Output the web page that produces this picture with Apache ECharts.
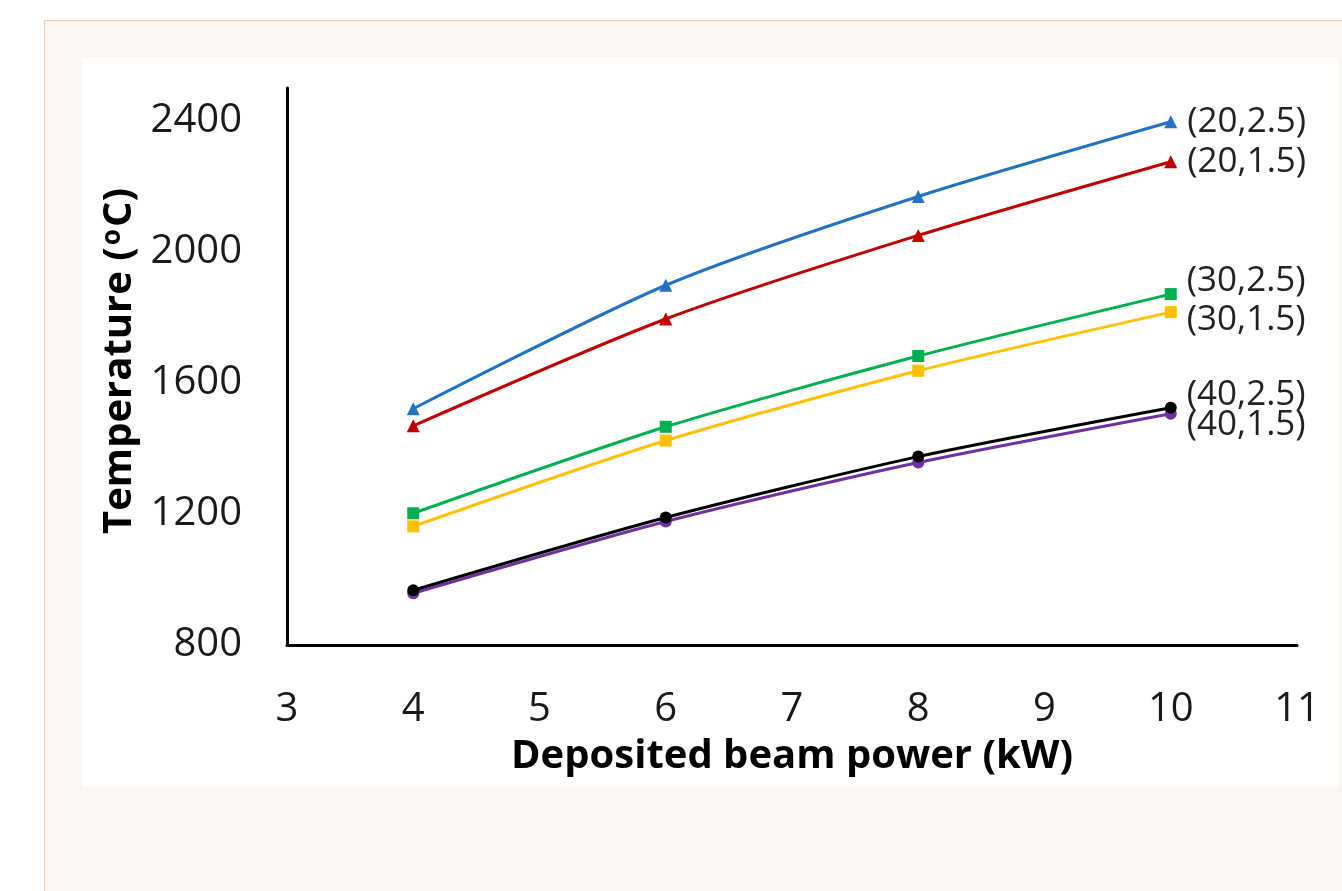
<!DOCTYPE html>
<html>
<head>
<meta charset="utf-8">
<style>
  html, body { margin: 0; padding: 0; background: #ffffff; }
  .frame {
    position: absolute; left: 44px; top: 20px; right: 0; bottom: 0;
    background: #fcf6f3;
    border-top: 1px solid #f0c6ae;
    border-left: 1px solid #f0c6ae;
  }
  .panel {
    position: absolute; left: 82px; top: 58px; width: 1256px; height: 729px;
    background: #ffffff;
  }
</style>
<script src="https://cdn.jsdelivr.net/npm/echarts@6/dist/echarts.min.js"></script>
</head>
<body>
<div class="frame"></div>
<div class="panel" id="main"></div>
<script>
// deposited beam power (kW)
var power = [4, 6, 8, 10];
// temperatures (°C), label = (x, y) case
var t20_25 = [1521, 1898, 2169, 2397];
var t20_15 = [1469, 1795, 2050, 2275];
var t30_25 = [1202, 1466, 1682, 1871];
var t30_15 = [1162, 1424, 1637, 1816];
var t40_25 = [967, 1189, 1375, 1524];
var t40_15 = [958, 1177, 1357, 1506];

var seriesNames = ['(20,2.5)', '(20,1.5)', '(30,2.5)', '(30,1.5)', '(40,2.5)', '(40,1.5)'];
var seriesVals = [t20_25, t20_15, t30_25, t30_15, t40_25, t40_15];
var colors = ['#2272c3', '#c00000', '#00b050', '#ffc000', '#000000', '#7030a0'];
var symbols = ['triangle', 'triangle', 'rect', 'rect', 'circle', 'circle'];
var labelDy = [0, 0, -13, 8, -13, 11];

var font = '"Open Sans", "DejaVu Sans", sans-serif';

var myChart = echarts.init(document.getElementById('main'));

var series = seriesNames.map(function (name, i) {
  var vals = seriesVals[i];
  return {
    name: name,
    type: 'line',
    smooth: 0.25,
    symbol: symbols[i],
    symbolSize: symbols[i] === 'triangle' ? 13 : 12,
    lineStyle: { color: colors[i], width: 3 },
    itemStyle: { color: colors[i] },
    z: 10 - i,
    data: vals.map(function (v, j) {
      var pt = { value: [power[j], v] };
      if (j === vals.length - 1) {
        pt.label = {
          show: true,
          position: 'right',
          distance: 10,
          offset: [0, labelDy[i]],
          formatter: name,
          color: '#222',
          fontSize: 35,
          fontFamily: font
        };
      }
      return pt;
    })
  };
});

myChart.setOption({
  animation: false,
  backgroundColor: '#ffffff',
  grid: { left: 205, top: 30, width: 1010, height: 557, outerBoundsMode: 'none', containLabel: false },
  xAxis: {
    type: 'value',
    min: 3,
    max: 11,
    interval: 1,
    splitLine: { show: false },
    axisTick: { show: false },
    axisLine: { show: true, lineStyle: { color: '#000', width: 3 } },
    axisLabel: {
      color: '#1a1a1a', fontSize: 40, fontFamily: font, margin: 45,
      formatter: function (v) { return String(v); }
    },
    name: 'Deposited beam power (kW)',
    nameLocation: 'middle',
    nameGap: 92,
    nameTextStyle: { color: '#000', fontSize: 40, fontWeight: 'bold', fontFamily: font }
  },
  yAxis: {
    type: 'value',
    min: 800,
    max: 2500,
    interval: 400,
    splitLine: { show: false },
    axisTick: { show: false },
    axisLine: { show: true, lineStyle: { color: '#000', width: 3 } },
    axisLabel: {
      color: '#1a1a1a', fontSize: 40, fontFamily: font, margin: 45, showMaxLabel: false,
      formatter: function (v) { return String(v); }
    }
  },
  graphic: [{
    type: 'text',
    x: 38,
    y: 303,
    rotation: Math.PI / 2,
    style: {
      text: '{a|Temperature (}{s|o}{a|C)}',
      align: 'center',
      verticalAlign: 'middle',
      fill: '#000',
      rich: {
        a: { fontSize: 40, fontWeight: 'bold', fontFamily: font, fill: '#000' },
        s: { fontSize: 26, fontWeight: 'bold', fontFamily: font, fill: '#000', verticalAlign: 'top', padding: [0, 2, 14, 2] }
      }
    }
  }],
  series: series
});
window.addEventListener('resize', function () { myChart.resize(); });
</script>
</body>
</html>
